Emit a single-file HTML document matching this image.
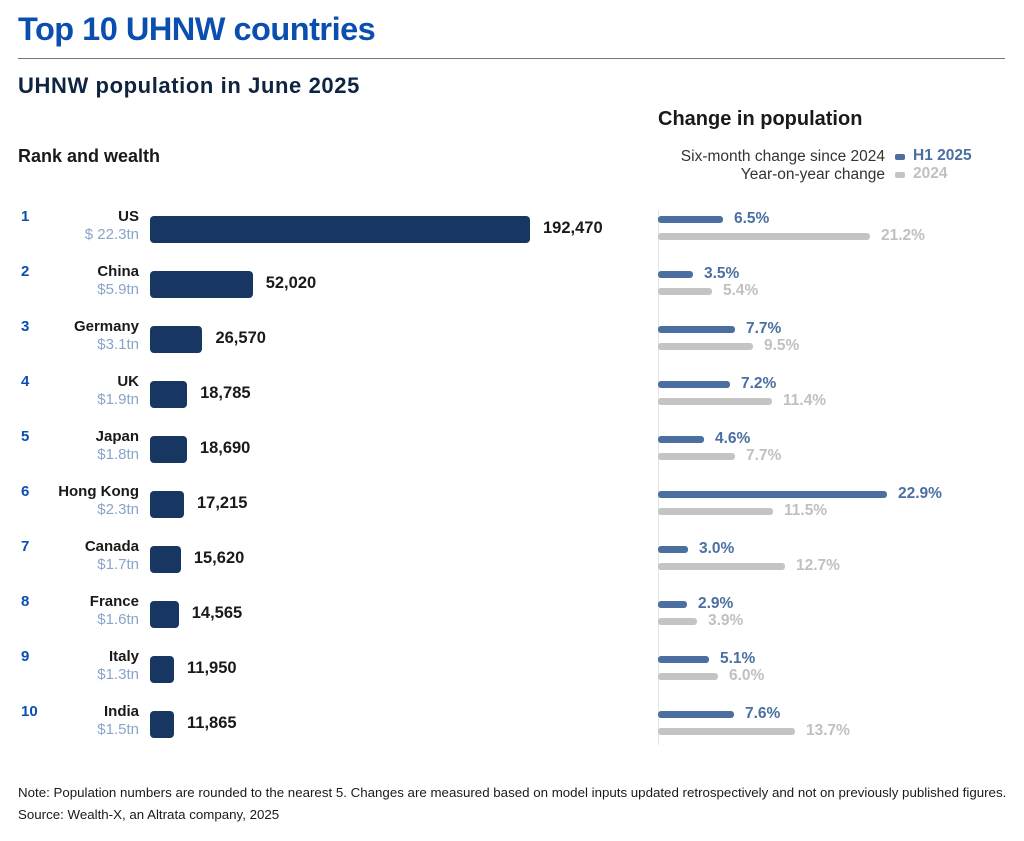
<!DOCTYPE html>
<html><head><meta charset="utf-8"><style>
body{margin:0;width:1024px;height:841px;background:#fff;font-family:"Liberation Sans",sans-serif;position:relative;overflow:hidden}
div,span{position:absolute;white-space:nowrap}
.rk{left:21px;color:#0a4fb0;font-weight:bold;font-size:15px}
.cn{right:885px;font-weight:bold;font-size:15px;color:#1a1a1a;text-align:right}
.wl{right:885px;font-size:15px;color:#8aa4c8;text-align:right}
.bar{left:150px;height:27px;background:#173661;border-radius:4px}
.num{font-weight:bold;font-size:16.5px;color:#1a1a1a}
.bb{left:658px;height:7px;background:#4a6fa0;border-radius:3px}
.gb{left:658px;height:7px;background:#c4c4c4;border-radius:3px}
.bl{font-weight:bold;font-size:15.5px;color:#4a6fa0}
.gl{font-weight:bold;font-size:15.5px;color:#c0c0c0}
</style></head><body>
<div style="left:18px;top:11px;font-size:32.5px;font-weight:bold;color:#0a4fb0;letter-spacing:-0.5px">Top 10 UHNW countries</div>
<div style="left:18px;top:58px;width:987px;height:1px;background:#777"></div>
<div style="left:18px;top:73px;font-size:22px;font-weight:bold;color:#0f2440;letter-spacing:0.6px">UHNW population in June 2025</div>
<div style="left:18px;top:146px;font-size:18px;font-weight:bold;color:#1a1a1a">Rank and wealth</div>
<div style="left:658px;top:108px;font-size:20px;font-weight:bold;color:#1a1a1a">Change in population</div>
<div style="right:139px;top:148px;font-size:15.5px;color:#333">Six-month change since 2024</div>
<div style="right:139px;top:166px;font-size:15.5px;color:#333">Year-on-year change</div>
<div style="left:895px;top:154px;width:10px;height:6px;background:#4a6fa0;border-radius:2px"></div>
<div style="left:895px;top:172px;width:10px;height:6px;background:#c4c4c4;border-radius:2px"></div>
<div style="left:913px;top:147px;font-size:15.5px;font-weight:bold;color:#4a6fa0">H1 2025</div>
<div style="left:913px;top:165px;font-size:15.5px;font-weight:bold;color:#c0c0c0">2024</div>
<div style="left:658px;top:210px;width:1px;height:535px;background:#e3e3e3"></div>
<div id="rows"></div>
<div style="left:18px;top:785px;font-size:13.3px;color:#1a1a1a">Note: Population numbers are rounded to the nearest 5. Changes are measured based on model inputs updated retrospectively and not on previously published figures.</div>
<div style="left:18px;top:807px;font-size:13.3px;color:#1a1a1a">Source: Wealth-X, an Altrata company, 2025</div>
<script>
var d=[["US","$ 22.3tn",192470,"192,470",6.5,21.2],["China","$5.9tn",52020,"52,020",3.5,5.4],["Germany","$3.1tn",26570,"26,570",7.7,9.5],["UK","$1.9tn",18785,"18,785",7.2,11.4],["Japan","$1.8tn",18690,"18,690",4.6,7.7],["Hong Kong","$2.3tn",17215,"17,215",22.9,11.5],["Canada","$1.7tn",15620,"15,620",3.0,12.7],["France","$1.6tn",14565,"14,565",2.9,3.9],["Italy","$1.3tn",11950,"11,950",5.1,6.0],["India","$1.5tn",11865,"11,865",7.6,13.7]];
var h="";
d.forEach(function(r,i){var y=55*i;var w=Math.max(r[2]*380/192470,24);
h+='<div class="rk" style="top:'+(208+y)+'px">'+(i+1)+'</div>';
h+='<div class="cn" style="top:'+(208+y)+'px">'+r[0]+'</div>';
h+='<div class="wl" style="top:'+(226+y)+'px">'+r[1]+'</div>';
h+='<div class="bar" style="top:'+(216+y)+'px;width:'+w+'px"></div>';
h+='<div class="num" style="top:'+(219+y)+'px;left:'+(150+w+13)+'px">'+r[3]+'</div>';
h+='<div class="bb" style="top:'+(216+y)+'px;width:'+(r[4]*10)+'px"></div>';
h+='<div class="gb" style="top:'+(233+y)+'px;width:'+(r[5]*10)+'px"></div>';
h+='<div class="bl" style="top:'+(210+y)+'px;left:'+(658+r[4]*10+11)+'px">'+r[4].toFixed(1)+'%</div>';
h+='<div class="gl" style="top:'+(227+y)+'px;left:'+(658+r[5]*10+11)+'px">'+r[5].toFixed(1)+'%</div>';
});
document.getElementById("rows").outerHTML=h;
</script>
</body></html>
